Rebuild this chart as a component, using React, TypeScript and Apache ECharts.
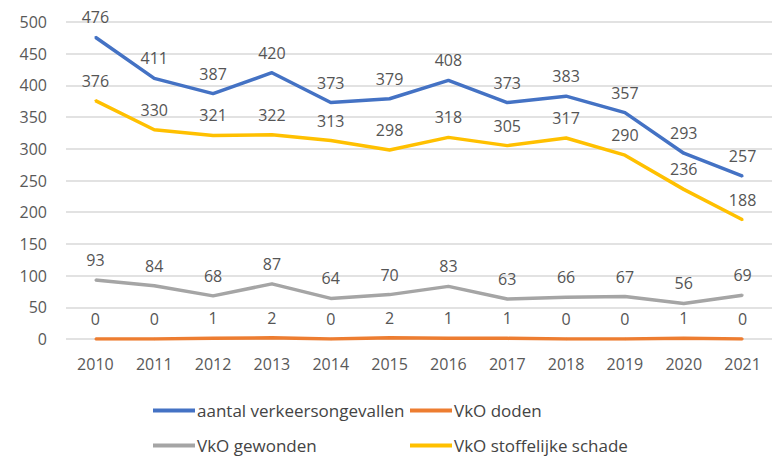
import React, { useEffect, useRef } from "react";
import * as echarts from "echarts";

const years = ["2010","2011","2012","2013","2014","2015","2016","2017","2018","2019","2020","2021"];
const ongevallen = [476, 411, 387, 420, 373, 379, 408, 373, 383, 357, 293, 257];
const doden = [0, 0, 1, 2, 0, 2, 1, 1, 0, 0, 1, 0];
const gewonden = [93, 84, 68, 87, 64, 70, 83, 63, 66, 67, 56, 69];
const schade = [376, 330, 321, 322, 313, 298, 318, 305, 317, 290, 236, 188];
const names = ["aantal verkeersongevallen", "VkO doden", "VkO gewonden", "VkO stoffelijke schade"];
const colors = ["#4472C4", "#ED7D31", "#A5A5A5", "#FFC000"];

export default function App() {
  const ref = useRef<HTMLDivElement>(null);
  useEffect(() => {
    const chart = echarts.init(ref.current!, undefined, { renderer: "svg" });
    const font = "'Open Sans', 'Liberation Sans', sans-serif";
    const mk = (name: string, data: number[], color: string) => ({
      name,
      type: "line",
      data,
      symbol: "circle",
      symbolSize: 2,
      showSymbol: true,
      showAllSymbol: true,
      lineStyle: { width: 3.5, color },
      itemStyle: { color },
      label: {
        show: true,
        position: "top",
        distance: 11,
        color: "#555",
        fontSize: 16,
        fontFamily: font,
      },
    });
    const legendPos = [
      { left: 148, top: 397 },
      { left: 405, top: 397 },
      { left: 148, top: 432 },
      { left: 405, top: 432 },
    ];
    chart.setOption({
      animation: false,
      grid: { left: 66, right: 1, top: 22, height: 317 },
      legend: names.map((n, i) => ({
        data: [n],
        ...legendPos[i],
        itemWidth: 42,
        itemHeight: 4,
        itemGap: 4,
        icon: "rect",
        textStyle: { color: "#444", fontSize: 17, fontFamily: font, padding: [0, 0, 0, -3] },
      })),
      xAxis: {
        type: "category",
        data: years,
        boundaryGap: true,
        axisLine: { show: false },
        axisTick: { show: false },
        axisLabel: { color: "#595959", fontSize: 16, fontFamily: font, margin: 17 },
      },
      yAxis: {
        type: "value",
        min: 0,
        max: 500,
        interval: 50,
        axisLine: { show: false },
        axisTick: { show: false },
        splitLine: { lineStyle: { color: "#d9d9d9", width: 1.5 } },
        axisLabel: { color: "#595959", fontSize: 16, fontFamily: font, margin: 19 },
      },
      series: [
        mk(names[0], ongevallen, colors[0]),
        mk(names[1], doden, colors[1]),
        mk(names[2], gewonden, colors[2]),
        mk(names[3], schade, colors[3]),
      ],
    });
    return () => chart.dispose();
  }, []);
  return (
    <div
      ref={ref}
      style={{ position: "fixed", left: 0, top: 0, width: 773, height: 462, background: "#fff" }}
    />
  );
}
